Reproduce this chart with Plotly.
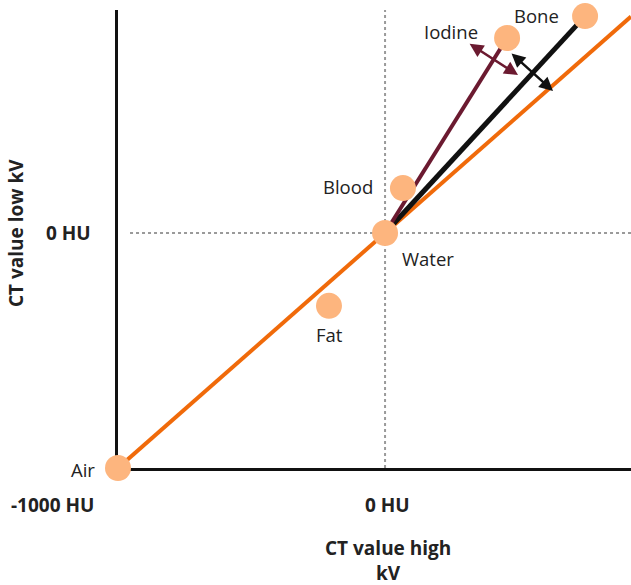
import plotly.graph_objects as go

# Data (HU values)
materials = ["Air", "Fat", "Water", "Blood", "Iodine", "Bone"]
hu_high = [-1000, -210, 0, 67, 457, 749]
hu_low = [-1000, -310, 0, 191, 830, 923]

# reference line (air -> water, extended)
ref_x = [-1000, 921]
ref_y = [-1000, 921]

# contrast vectors from water
iodine_vec_x = [0, 457]
iodine_vec_y = [0, 830]
bone_vec_x = [0, 749]
bone_vec_y = [0, 923]

# double arrows (distance to reference line)
bone_arrow = [(468, 770), (629, 604)]
iodine_arrow = [(311, 809), (498, 672)]

x_ticks = [-1000, 0]
x_ticktext = ["-1000 HU", "0 HU"]
y_ticks = [0]
y_ticktext = ["0 HU"]

XR = [-1000, 921]
YR = [-1000, 949]

FONT = "Open Sans"
TXT = "#222222"

fig = go.Figure()

# dotted guide lines
fig.add_trace(go.Scatter(x=[-955, XR[1]], y=[0, 0], mode="lines",
                         line=dict(color="#9a9a9a", width=2, dash="dot"),
                         hoverinfo="skip", showlegend=False, cliponaxis=False))
fig.add_trace(go.Scatter(x=[0, 0], y=[YR[0], YR[1]], mode="lines",
                         line=dict(color="#9a9a9a", width=2, dash="dot"),
                         hoverinfo="skip", showlegend=False, cliponaxis=False))

fig.add_trace(go.Scatter(x=ref_x, y=ref_y, mode="lines",
                         line=dict(color="#F06A0A", width=4),
                         hoverinfo="skip", showlegend=False, cliponaxis=False))
fig.add_trace(go.Scatter(x=bone_vec_x, y=bone_vec_y, mode="lines",
                         line=dict(color="#111111", width=5),
                         hoverinfo="skip", showlegend=False, cliponaxis=False))
fig.add_trace(go.Scatter(x=iodine_vec_x, y=iodine_vec_y, mode="lines",
                         line=dict(color="#6B1A30", width=4),
                         hoverinfo="skip", showlegend=False, cliponaxis=False))

fig.add_trace(go.Scatter(x=hu_high, y=hu_low, mode="markers",
                         marker=dict(size=26, color="#FDB57E"),
                         text=materials, hoverinfo="text",
                         showlegend=False, cliponaxis=False))

annotations = []
# point labels offsets (pixels)
label_offsets = {
    "Air": (-35, -1), "Fat": (1, -29), "Water": (43, -25),
    "Blood": (-55, 2), "Iodine": (-56, 6), "Bone": (-49, 1),
}
for name, xv, yv in zip(materials, hu_high, hu_low):
    dx, dy = label_offsets[name]
    annotations.append(dict(x=xv, y=yv, xref="x", yref="y", text=name,
                            showarrow=False, xshift=dx, yshift=dy,
                            font=dict(family=FONT, size=18.5, color=TXT)))

# double arrows
for (p0, p1), col in [(bone_arrow, "#111111"), (iodine_arrow, "#6B1A30")]:
    annotations.append(dict(x=p1[0], y=p1[1], ax=p0[0], ay=p0[1],
                            xref="x", yref="y", axref="x", ayref="y",
                            text="", showarrow=True, arrowhead=2, startarrowhead=2,
                            arrowside="end+start", arrowwidth=2.5, arrowsize=1.1,
                            startarrowsize=1.1, arrowcolor=col))

BOLD = dict(family=FONT, size=19, color=TXT, weight="bold")
# tick labels
annotations.append(dict(x=x_ticks[0], y=YR[0], xref="x", yref="y", text=x_ticktext[0],
                        showarrow=False, xanchor="right", xshift=-22, yshift=-37,
                        font=BOLD))
annotations.append(dict(x=x_ticks[1], y=YR[0], xref="x", yref="y", text=x_ticktext[1],
                        showarrow=False, xanchor="center", xshift=2, yshift=-37,
                        font=BOLD))
annotations.append(dict(x=XR[0], y=y_ticks[0], xref="x", yref="y", text=y_ticktext[0],
                        showarrow=False, xanchor="right", xshift=-25,
                        font=BOLD))

# axis titles
annotations.append(dict(x=0, y=YR[0], xref="x", yref="y",
                        text="CT value high<br>kV", showarrow=False,
                        xshift=3, yshift=-92, yanchor="middle",
                        font=BOLD))
annotations.append(dict(x=XR[0], y=0, xref="x", yref="y",
                        text="CT value low kV", showarrow=False, textangle=-90,
                        xshift=-102,
                        font=BOLD))

fig.update_layout(
    width=631, height=585,
    margin=dict(l=118, r=0, t=10, b=117),
    paper_bgcolor="white", plot_bgcolor="white",
    annotations=annotations,
    xaxis=dict(range=XR, showgrid=False, zeroline=False, showticklabels=False,
               showline=True, linecolor="#111111", linewidth=2.5, layer="below traces",
               fixedrange=True),
    yaxis=dict(range=YR, showgrid=False, zeroline=False, showticklabels=False,
               showline=True, linecolor="#111111", linewidth=2.5, layer="below traces",
               fixedrange=True),
    font=dict(family=FONT, color=TXT),
)

# remove the page's default body margin so the figure fills the window exactly
fig.write_html("out.html", config={"displayModeBar": False},
               post_script="document.body.style.margin='0px';document.body.style.overflow='hidden';")
